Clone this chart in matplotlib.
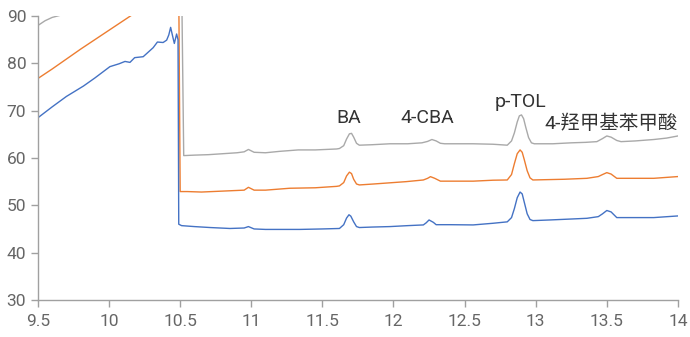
import matplotlib
matplotlib.use("Agg")
import matplotlib.pyplot as plt

# retention time (min) / signal
gray_t = [9.5, 9.55, 9.6, 9.65, 9.75, 10.0, 10.3, 10.51, 10.525, 10.6, 10.7, 10.8, 10.9, 10.95,
          10.98, 11.02, 11.1, 11.2, 11.33, 11.45, 11.6, 11.62, 11.65, 11.67, 11.69, 11.705,
          11.72, 11.74, 11.76, 11.85, 11.975, 12.1, 12.2, 12.24, 12.27, 12.3, 12.33, 12.36,
          12.45, 12.56, 12.7, 12.8, 12.83, 12.85, 12.87, 12.885, 12.9, 12.915, 12.93, 12.95,
          12.97, 12.99, 13.05, 13.12, 13.25, 13.35, 13.43, 13.47, 13.5, 13.53, 13.57, 13.6,
          13.7, 13.83, 13.92, 14.0]
gray_v = [88.0, 89.0, 89.7, 90.1, 91.0, 93.0, 95.5, 98.0, 60.5, 60.6, 60.7, 60.9, 61.1, 61.3,
          61.8, 61.2, 61.1, 61.4, 61.7, 61.7, 61.9, 62.0, 62.6, 64.0, 65.1, 65.2,
          64.4, 63.1, 62.7, 62.8, 63.0, 63.0, 63.2, 63.5, 63.9, 63.6, 63.1, 63.0,
          63.0, 63.0, 62.9, 62.7, 63.6, 65.3, 67.6, 68.9, 69.1, 68.3, 66.5, 64.3,
          63.2, 63.0, 63.0, 63.0, 63.2, 63.3, 63.45, 64.1, 64.65, 64.4, 63.7, 63.45,
          63.6, 63.9, 64.2, 64.65]

orange_t = [9.5, 9.6, 9.7, 9.8, 9.9, 10.0, 10.1, 10.15, 10.3, 10.49, 10.5, 10.55, 10.65,
            10.8, 10.95, 10.98, 11.02, 11.1, 11.27, 11.45, 11.6, 11.62, 11.65, 11.67, 11.69,
            11.705, 11.72, 11.74, 11.76, 11.86, 12.09, 12.21, 12.24, 12.26, 12.29, 12.33,
            12.45, 12.56, 12.7, 12.8, 12.83, 12.85, 12.87, 12.89, 12.905, 12.92, 12.94, 12.96,
            12.98, 13.05, 13.2, 13.36, 13.44, 13.47, 13.5, 13.53, 13.57, 13.7, 13.83, 14.0]
orange_v = [76.8, 78.8, 80.9, 83.0, 85.0, 87.0, 89.0, 90.0, 93.0, 96.0, 52.9, 52.9, 52.8,
            53.0, 53.2, 53.8, 53.2, 53.2, 53.6, 53.7, 54.0, 54.1, 54.8, 56.2, 57.0,
            56.7, 55.5, 54.5, 54.3, 54.5, 55.0, 55.35, 55.7, 56.05, 55.7, 55.1,
            55.1, 55.1, 55.3, 55.35, 56.5, 58.8, 60.9, 61.7, 61.2, 59.6, 57.3, 55.8,
            55.35, 55.4, 55.5, 55.7, 56.07, 56.5, 56.9, 56.6, 55.7, 55.7, 55.7, 56.07]

blue_t = [9.5, 9.6, 9.7, 9.82, 9.9, 10.006, 10.07, 10.112, 10.147, 10.18, 10.24, 10.31,
          10.34, 10.38, 10.405, 10.42, 10.433, 10.445, 10.459, 10.475, 10.485, 10.49, 10.51,
          10.6, 10.71, 10.85, 10.95, 10.98, 11.02, 11.1, 11.34, 11.5, 11.62, 11.65, 11.67,
          11.687, 11.70, 11.72, 11.74, 11.76, 11.85, 11.975, 12.1, 12.21, 12.23, 12.25, 12.28,
          12.3, 12.4, 12.56, 12.7, 12.8, 12.83, 12.85, 12.87, 12.89, 12.905, 12.92, 12.94,
          12.96, 12.98, 13.1, 13.25, 13.36, 13.44, 13.47, 13.5, 13.53, 13.57, 13.7, 13.83, 14.0]
blue_v = [68.5, 70.8, 73.0, 75.2, 76.9, 79.3, 79.9, 80.4, 80.2, 81.2, 81.4, 83.3,
          84.5, 84.4, 84.9, 86.0, 87.6, 86.0, 84.2, 86.2, 85.0, 46.0, 45.7,
          45.5, 45.3, 45.1, 45.2, 45.5, 45.0, 44.9, 44.9, 45.0, 45.1, 45.9, 47.3,
          48.0, 47.7, 46.5, 45.5, 45.3, 45.4, 45.5, 45.7, 45.85, 46.3, 46.9, 46.4,
          45.9, 45.9, 45.85, 46.2, 46.5, 47.4, 49.3, 51.6, 52.8, 52.4, 50.6, 48.2,
          47.0, 46.76, 46.9, 47.1, 47.25, 47.6, 48.2, 48.9, 48.6, 47.4, 47.4, 47.4, 47.75]

peak_names = ["BA", "4-CBA", "p-TOL", "4-羟甲基苯甲酸"]
peak_x = [11.687, 12.24, 12.89, 13.53]
peak_y = [68.5, 68.5, 71.8, 67.2]

x_ticks = [9.5, 10, 10.5, 11, 11.5, 12, 12.5, 13, 13.5, 14]
x_labels = ["9.5", "10", "10.5", "11", "11.5", "12", "12.5", "13", "13.5", "14"]
y_ticks = [30, 40, 50, 60, 70, 80, 90]

fig = plt.figure(figsize=(6.9, 3.37), dpi=100)
ax = fig.add_axes([0.055, 0.11, 0.9275, 0.8425])

ax.plot(gray_t, gray_v, color="#a9a9a9", lw=1.0)
ax.plot(orange_t, orange_v, color="#ed7d31", lw=1.0)
ax.plot(blue_t, blue_v, color="#4472c4", lw=1.0)

for name, px, py in zip(peak_names, peak_x, peak_y):
    ax.text(px, py, name, ha="center", va="center", fontsize=14, color="#333333",
            family=["Roboto", "Noto Sans CJK SC"])

ax.set_xlim(9.5, 14)
ax.set_ylim(30, 90)
ax.set_xticks(x_ticks)
ax.set_xticklabels(x_labels)
ax.set_yticks(y_ticks)

for s in ["top", "right"]:
    ax.spines[s].set_visible(False)
for s in ["left", "bottom"]:
    ax.spines[s].set_color("#a0a0a0")
    ax.spines[s].set_linewidth(1.0)
ax.tick_params(colors="#a0a0a0", length=5, width=1.0, labelcolor="#666666",
               labelsize=12.5)
ax.tick_params(axis="x", pad=5)
for lab in ax.get_xticklabels() + ax.get_yticklabels():
    lab.set_family("Roboto")

fig.savefig("out.png", dpi=100)
